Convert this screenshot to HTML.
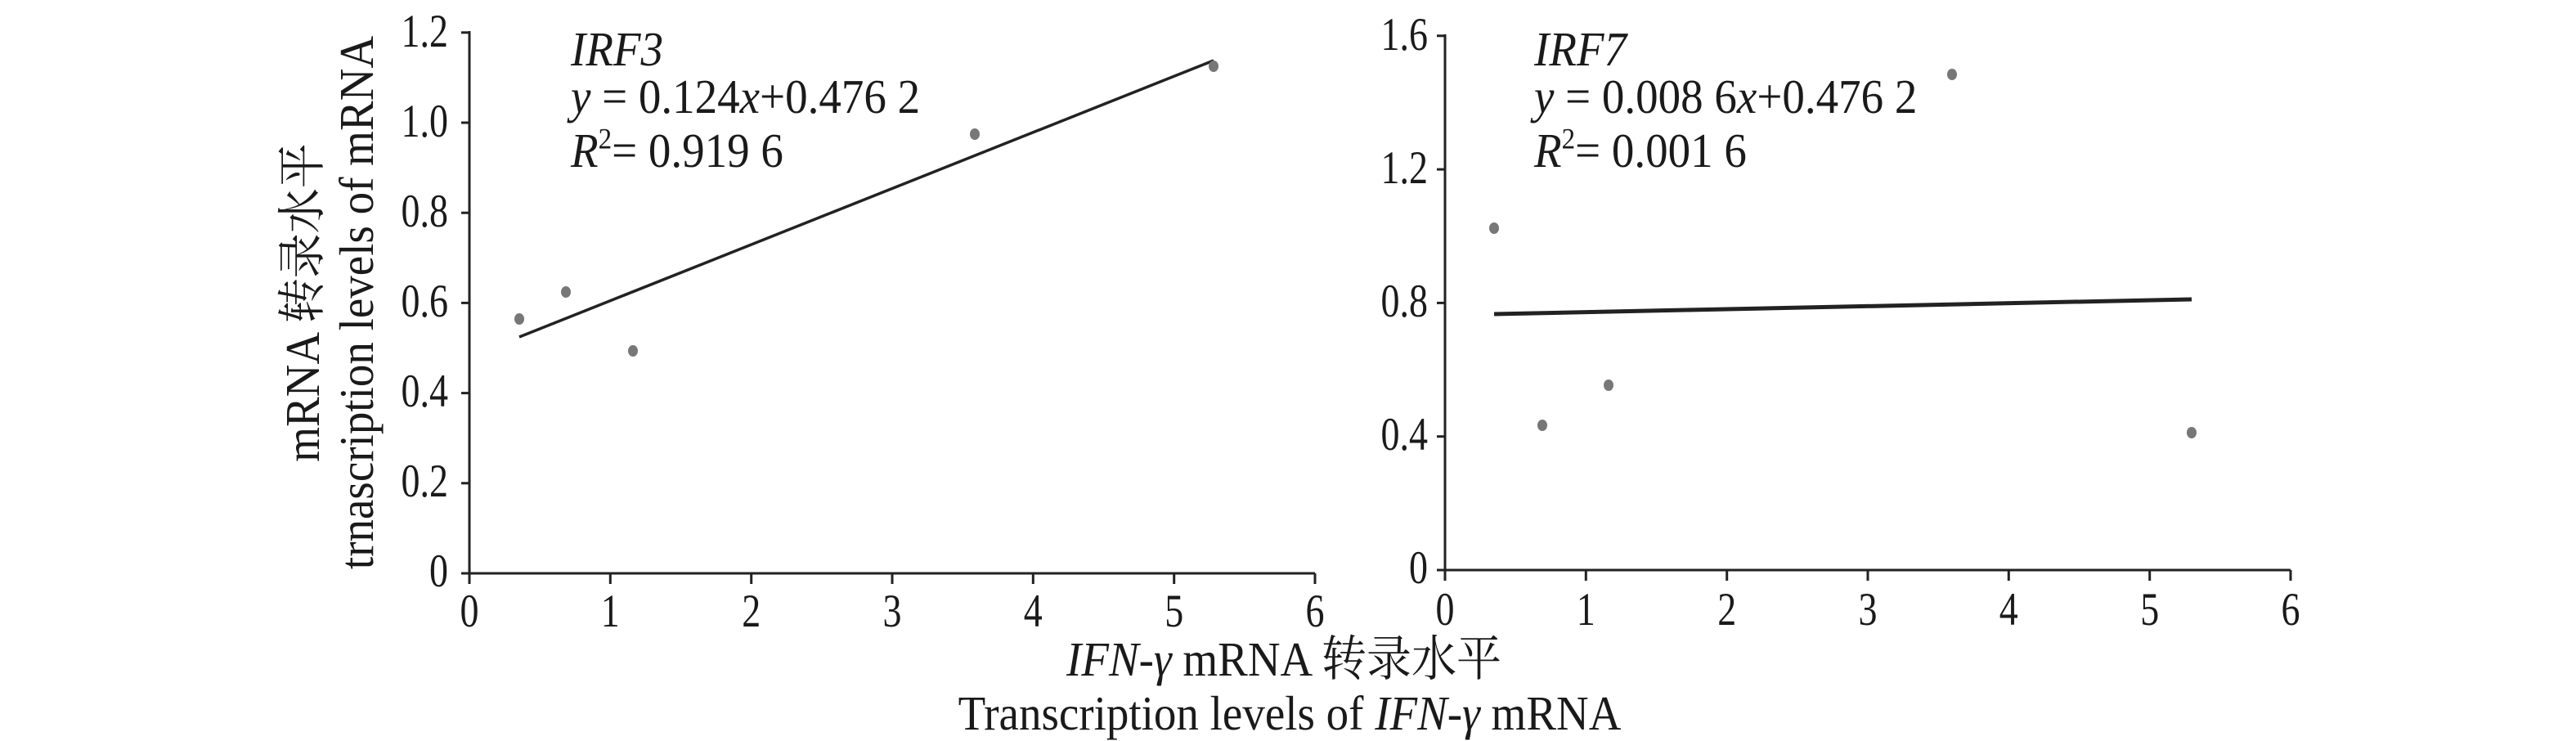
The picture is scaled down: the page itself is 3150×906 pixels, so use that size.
<!DOCTYPE html>
<html><head><meta charset="utf-8"><style>
html,body{margin:0;padding:0;background:#fff;}
svg{display:block;}
text{font-family:"Liberation Serif","Noto Serif CJK SC",serif;fill:#1a1a1a;}
</style></head><body>
<svg width="3150" height="906" viewBox="0 0 3150 906" xmlns="http://www.w3.org/2000/svg">
<g stroke="#222" stroke-width="3" fill="none">
<line x1="574" y1="38" x2="574" y2="701"/>
<line x1="574" y1="701" x2="1608" y2="701"/>
<line x1="564" y1="701" x2="574" y2="701"/>
<line x1="564" y1="590.8" x2="574" y2="590.8"/>
<line x1="564" y1="480.6" x2="574" y2="480.6"/>
<line x1="564" y1="370.4" x2="574" y2="370.4"/>
<line x1="564" y1="260.2" x2="574" y2="260.2"/>
<line x1="564" y1="150" x2="574" y2="150"/>
<line x1="564" y1="39.8" x2="574" y2="39.8"/>
<line x1="574" y1="701" x2="574" y2="714"/>
<line x1="746.3" y1="701" x2="746.3" y2="714"/>
<line x1="918.7" y1="701" x2="918.7" y2="714"/>
<line x1="1091" y1="701" x2="1091" y2="714"/>
<line x1="1263.3" y1="701" x2="1263.3" y2="714"/>
<line x1="1435.7" y1="701" x2="1435.7" y2="714"/>
<line x1="1608" y1="701" x2="1608" y2="714"/>
<line x1="1767" y1="42" x2="1767" y2="697"/>
<line x1="1767" y1="697" x2="2801" y2="697"/>
<line x1="1757" y1="697" x2="1767" y2="697"/>
<line x1="1757" y1="533.7" x2="1767" y2="533.7"/>
<line x1="1757" y1="370.4" x2="1767" y2="370.4"/>
<line x1="1757" y1="207.1" x2="1767" y2="207.1"/>
<line x1="1757" y1="43.8" x2="1767" y2="43.8"/>
<line x1="1767" y1="697" x2="1767" y2="710"/>
<line x1="1939.3" y1="697" x2="1939.3" y2="710"/>
<line x1="2111.7" y1="697" x2="2111.7" y2="710"/>
<line x1="2284" y1="697" x2="2284" y2="710"/>
<line x1="2456.3" y1="697" x2="2456.3" y2="710"/>
<line x1="2628.7" y1="697" x2="2628.7" y2="710"/>
<line x1="2801" y1="697" x2="2801" y2="710"/>
</g>
<line x1="635" y1="412" x2="1484" y2="74" stroke="#222" stroke-width="3.5"/>
<line x1="1827" y1="384" x2="2680" y2="366" stroke="#222" stroke-width="5"/>
<g fill="#777">
<ellipse cx="635" cy="390" rx="6" ry="7"/>
<ellipse cx="692" cy="357" rx="6" ry="7"/>
<ellipse cx="774" cy="429" rx="6" ry="7"/>
<ellipse cx="1192" cy="164" rx="6" ry="7"/>
<ellipse cx="1484" cy="81" rx="6" ry="7"/>
<ellipse cx="1827" cy="279" rx="6" ry="7"/>
<ellipse cx="1886" cy="520" rx="6" ry="7"/>
<ellipse cx="1967" cy="471" rx="6" ry="7"/>
<ellipse cx="2387" cy="91" rx="6" ry="7"/>
<ellipse cx="2680" cy="529" rx="6" ry="7"/>
</g>
<g font-size="46" text-anchor="end">
<text transform="translate(548,717) scale(1,1.25)">0</text>
<text transform="translate(548,607) scale(1,1.25)">0.2</text>
<text transform="translate(548,497) scale(1,1.25)">0.4</text>
<text transform="translate(548,387) scale(1,1.25)">0.6</text>
<text transform="translate(548,277) scale(1,1.25)">0.8</text>
<text transform="translate(548,167) scale(1,1.25)">1.0</text>
<text transform="translate(548,57) scale(1,1.25)">1.2</text>
<text transform="translate(1746,713) scale(1,1.25)">0</text>
<text transform="translate(1746,550) scale(1,1.25)">0.4</text>
<text transform="translate(1746,387) scale(1,1.25)">0.8</text>
<text transform="translate(1746,224) scale(1,1.25)">1.2</text>
<text transform="translate(1746,61) scale(1,1.25)">1.6</text>
</g>
<g font-size="46" text-anchor="middle">
<text transform="translate(574,766) scale(1,1.25)">0</text>
<text transform="translate(746.3,766) scale(1,1.25)">1</text>
<text transform="translate(918.7,766) scale(1,1.25)">2</text>
<text transform="translate(1091,766) scale(1,1.25)">3</text>
<text transform="translate(1263.3,766) scale(1,1.25)">4</text>
<text transform="translate(1435.7,766) scale(1,1.25)">5</text>
<text transform="translate(1608,766) scale(1,1.25)">6</text>
<text transform="translate(1767,764) scale(1,1.25)">0</text>
<text transform="translate(1939.3,764) scale(1,1.25)">1</text>
<text transform="translate(2111.7,764) scale(1,1.25)">2</text>
<text transform="translate(2284,764) scale(1,1.25)">3</text>
<text transform="translate(2456.3,764) scale(1,1.25)">4</text>
<text transform="translate(2628.7,764) scale(1,1.25)">5</text>
<text transform="translate(2801,764) scale(1,1.25)">6</text>
</g>
<g font-size="55">
<text transform="translate(698,80) scale(1,1.08)" font-style="italic">IRF3</text>
<text transform="translate(698,138) scale(1,1.08)"><tspan font-style="italic">y</tspan> = 0.124<tspan font-style="italic">x</tspan>+0.476 2</text>
<text transform="translate(698,204) scale(1,1.08)"><tspan font-style="italic">R</tspan><tspan font-size="33" dy="-21">2</tspan><tspan dy="21">= 0.919 6</tspan></text>
<text transform="translate(1876,80) scale(1,1.08)" font-style="italic">IRF7</text>
<text transform="translate(1876,138) scale(1,1.08)"><tspan font-style="italic">y</tspan> = 0.008 6<tspan font-style="italic">x</tspan>+0.476 2</text>
<text transform="translate(1876,204) scale(1,1.08)"><tspan font-style="italic">R</tspan><tspan font-size="33" dy="-21">2</tspan><tspan dy="21">= 0.001 6</tspan></text>
</g>
<g font-size="55" text-anchor="middle">
<text transform="translate(1570,826) scale(1,1.08)"><tspan font-style="italic">IFN-γ</tspan> mRNA 转录水平</text>
<text transform="translate(1577,892) scale(1,1.08)">Transcription levels of <tspan font-style="italic">IFN-γ</tspan> mRNA</text>
<text transform="translate(390,370) rotate(-90) scale(1,1.08)">mRNA 转录水平</text>
<text transform="translate(456,370) rotate(-90) scale(1,1.08)">trnascription levels of mRNA</text>
</g>
</svg>
</body></html>
